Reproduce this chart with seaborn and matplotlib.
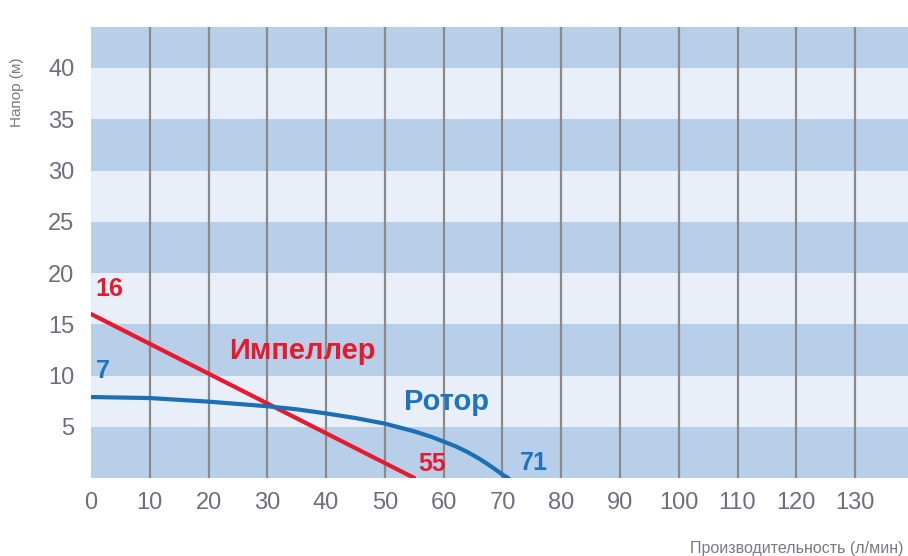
import matplotlib
matplotlib.use("Agg")
import matplotlib.pyplot as plt
import seaborn as sns
import pandas as pd

# ---- data ----
impeller_flow = [0, 55]
impeller_head = [16, 0]
rotor_flow = [0, 10, 20, 30, 35, 40, 45, 50, 55, 58, 60, 62, 64, 66, 67.5, 69, 70.2, 71]
rotor_head = [7.9, 7.8, 7.45, 7.0, 6.7, 6.3, 5.85, 5.3, 4.55, 4.0, 3.55, 3.1, 2.55, 1.9, 1.35, 0.75, 0.25, 0]
x_ticks = list(range(0, 140, 10))
y_ticks = [5, 10, 15, 20, 25, 30, 35, 40]
x_label = "Производительность (л/мин)"
y_label = "Напор (м)"

sns.set_theme(style="white")
plt.rcParams["font.family"] = ["Liberation Sans", "DejaVu Sans"]

fig = plt.figure(figsize=(9.08, 5.56), dpi=100)
ax = fig.add_axes([91 / 908, 1 - 478 / 556, 1 - 91 / 908, (478 - 27) / 556])
ax.set_xlim(0, 139)
ax.set_ylim(0, 44)

dark = "#b8cfe9"
light = "#e8eff9"
ax.set_facecolor(light)
for lo in range(0, 45, 10):
    ax.axhspan(lo, min(lo + 5, 44), color=dark, lw=0, zorder=0)
for xv in x_ticks[1:]:
    ax.axvline(xv, color="#8a8a8a", lw=1.6, zorder=1)

red = "#e8192c"
blue = "#1b6fb5"
df_imp = pd.DataFrame({"flow": impeller_flow, "head": impeller_head})
df_rot = pd.DataFrame({"flow": rotor_flow, "head": rotor_head})
sns.lineplot(data=df_imp, x="flow", y="head", ax=ax, color=red, lw=3, zorder=3,
             solid_capstyle="round")
sns.lineplot(data=df_rot, x="flow", y="head", ax=ax, color=blue, lw=3, zorder=3,
             solid_capstyle="round", solid_joinstyle="round")

tblue = "#1f74c0"
ax.text(0.8, 18.4, "16", color=red, fontsize=18, fontweight="bold", va="center", ha="left")
ax.text(36, 12.4, "Импеллер", color=red, fontsize=21, fontweight="bold", va="center", ha="center")
ax.text(0.8, 10.4, "7", color=tblue, fontsize=18, fontweight="bold", va="center", ha="left")
ax.text(60.4, 7.4, "Ротор", color=tblue, fontsize=21, fontweight="bold", va="center", ha="center")
ax.text(58.0, 1.4, "55", color=red, fontsize=18, fontweight="bold", va="center", ha="center")
ax.text(75.4, 1.5, "71", color=tblue, fontsize=18, fontweight="bold", va="center", ha="center")

ax.set_xticks(x_ticks)
ax.set_yticks(y_ticks)
ax.tick_params(axis="both", length=0, labelsize=17, labelcolor="#6e6e80")
ax.tick_params(axis="x", pad=10)
ax.tick_params(axis="y", pad=12)
for s in ax.spines.values():
    s.set_visible(False)
ax.set_xlabel("")
ax.set_ylabel("")
ax.grid(False)

fig.text(17 / 908, 1 - 92 / 556, y_label, rotation=90, ha="center", va="center",
         fontsize=11, color="#7a7a88")
fig.text(903 / 908, 1 - 548 / 556, x_label, ha="right", va="center",
         fontsize=11.5, color="#7a7a88")

fig.savefig("out.png", dpi=100)
